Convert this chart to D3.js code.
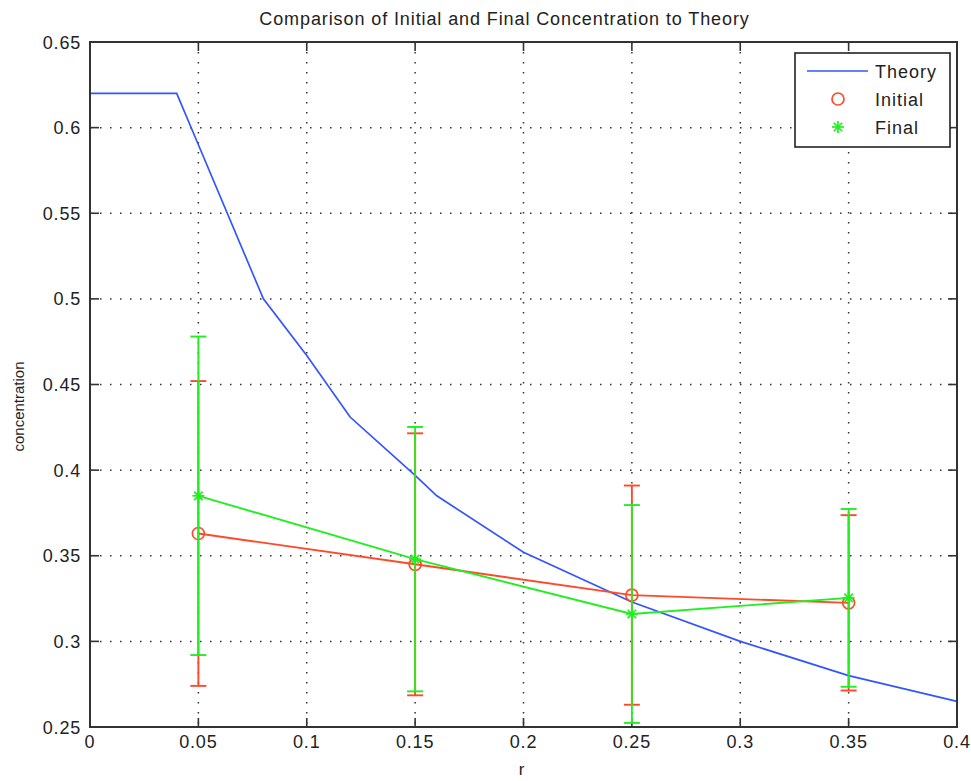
<!DOCTYPE html>
<html lang="en">
<head>
    <meta charset="UTF-8">
    <title>Comparison of Initial and Final Concentration to Theory</title>
    <script src="https://d3js.org/d3.v7.min.js"></script>
    <style>
        body {
            margin: 0;
            background: #fff;
        }
        svg {
            display: block;
            font-family: "Liberation Sans", Arial, sans-serif;
        }
        .grid line {
            stroke: #333;
            stroke-width: 1.5px;
            stroke-dasharray: 1.5 8.5;
        }
        .tick-label {
            font-size: 18px;
            fill: #222;
            letter-spacing: 0.8px;
        }
    </style>
</head>
<body>
    <svg id="chart" width="971" height="781"></svg>

    <script>
        // theory curve
        const theoryR = [0, 0.04, 0.05, 0.08, 0.1, 0.12, 0.15, 0.16, 0.2, 0.25, 0.3, 0.35, 0.4];
        const theoryC = [0.62, 0.62, 0.59, 0.5, 0.467, 0.431, 0.397, 0.385, 0.352, 0.323, 0.30, 0.28, 0.265];

        // measured points
        const rPoints = [0.05, 0.15, 0.25, 0.35];
        const initialC = [0.363, 0.345, 0.327, 0.3225];
        const initialErr = [0.089, 0.0765, 0.064, 0.0512];
        const finalC = [0.385, 0.348, 0.316, 0.3254];
        const finalErr = [0.093, 0.0772, 0.0636, 0.0519];

        const xTicks = [0, 0.05, 0.1, 0.15, 0.2, 0.25, 0.3, 0.35, 0.4];
        const yTicks = [0.25, 0.3, 0.35, 0.4, 0.45, 0.5, 0.55, 0.6, 0.65];
        const legendNames = ["Theory", "Initial", "Final"];

        const blue = "#3355ff", red = "#ff4a2a", green = "#22ee22", axisCol = "#333";

        const W = 971, H = 781;
        const m = { left: 90, top: 42, right: 14, bottom: 54 };
        const svg = d3.select("#chart");

        const x = d3.scaleLinear().domain([0, 0.4]).range([m.left, W - m.right]);
        const y = d3.scaleLinear().domain([0.25, 0.65]).range([H - m.bottom, m.top]);

        // grid
        const grid = svg.append("g").attr("class", "grid");
        grid.selectAll(".gx").data(xTicks.slice(1, -1)).enter().append("line")
            .attr("x1", d => x(d)).attr("x2", d => x(d))
            .attr("y1", y(0.65)).attr("y2", y(0.25));
        grid.selectAll(".gy").data(yTicks.slice(1, -1)).enter().append("line")
            .attr("y1", d => y(d)).attr("y2", d => y(d))
            .attr("x1", x(0)).attr("x2", x(0.4));

        // tick marks inward on all sides
        const tk = 9;
        const ticks = svg.append("g").attr("stroke", axisCol).attr("stroke-width", 1.6);
        xTicks.forEach(d => {
            ticks.append("line").attr("x1", x(d)).attr("x2", x(d)).attr("y1", y(0.25)).attr("y2", y(0.25) - tk);
            ticks.append("line").attr("x1", x(d)).attr("x2", x(d)).attr("y1", y(0.65)).attr("y2", y(0.65) + tk);
        });
        yTicks.forEach(d => {
            ticks.append("line").attr("y1", y(d)).attr("y2", y(d)).attr("x1", x(0)).attr("x2", x(0) + tk);
            ticks.append("line").attr("y1", y(d)).attr("y2", y(d)).attr("x1", x(0.4)).attr("x2", x(0.4) - tk);
        });

        // tick labels
        svg.selectAll(".xl").data(xTicks).enter().append("text")
            .attr("class", "tick-label")
            .attr("x", d => x(d)).attr("y", y(0.25) + 21)
            .attr("text-anchor", "middle")
            .text(d => d3.format("")(d));
        svg.selectAll(".yl").data(yTicks).enter().append("text")
            .attr("class", "tick-label")
            .attr("x", x(0) - 9).attr("y", d => y(d) + 6.5)
            .attr("text-anchor", "end")
            .text(d => d3.format("")(d));

        // theory line
        const line = d3.line().x(d => x(d[0])).y(d => y(d[1]));
        svg.append("path")
            .datum(theoryR.map((r, i) => [r, theoryC[i]]))
            .attr("d", line)
            .attr("fill", "none").attr("stroke", blue).attr("stroke-width", 1.7);

        function errorSeries(vals, errs, color, marker) {
            const g = svg.append("g");
            g.append("path")
                .datum(rPoints.map((r, i) => [r, vals[i]]))
                .attr("d", line)
                .attr("fill", "none").attr("stroke", color).attr("stroke-width", 1.9);
            const cap = 8;
            rPoints.forEach((r, i) => {
                const lo = vals[i] - errs[i], hi = vals[i] + errs[i];
                const e = g.append("g").attr("stroke", color).attr("stroke-width", 1.9);
                e.append("line").attr("x1", x(r)).attr("x2", x(r)).attr("y1", y(lo)).attr("y2", y(hi));
                e.append("line").attr("x1", x(r) - cap).attr("x2", x(r) + cap).attr("y1", y(lo)).attr("y2", y(lo));
                e.append("line").attr("x1", x(r) - cap).attr("x2", x(r) + cap).attr("y1", y(hi)).attr("y2", y(hi));
                marker(g, x(r), y(vals[i]));
            });
        }

        function circleMarker(g, cx, cy) {
            g.append("circle").attr("cx", cx).attr("cy", cy).attr("r", 6)
                .attr("fill", "none").attr("stroke", red).attr("stroke-width", 1.7);
        }
        function starMarker(g, cx, cy) {
            const s = 6;
            const st = g.append("g").attr("stroke", green).attr("stroke-width", 1.7);
            [0, 45, 90, 135].forEach(a => {
                const dx = s * Math.cos(a * Math.PI / 180), dy = s * Math.sin(a * Math.PI / 180);
                st.append("line").attr("x1", cx - dx).attr("x2", cx + dx).attr("y1", cy - dy).attr("y2", cy + dy);
            });
        }

        errorSeries(initialC, initialErr, red, circleMarker);
        errorSeries(finalC, finalErr, green, starMarker);

        // axes box
        svg.append("rect")
            .attr("x", x(0)).attr("y", y(0.65))
            .attr("width", x(0.4) - x(0)).attr("height", y(0.25) - y(0.65))
            .attr("fill", "none").attr("stroke", axisCol).attr("stroke-width", 2);

        // legend
        const lg = svg.append("g");
        lg.append("rect").attr("x", 795).attr("y", 53).attr("width", 155).attr("height", 94)
            .attr("fill", "#fff").attr("stroke", "#222").attr("stroke-width", 1.6);
        const rows = [71, 99, 127];
        lg.append("line").attr("x1", 807).attr("x2", 868).attr("y1", rows[0]).attr("y2", rows[0])
            .attr("stroke", blue).attr("stroke-width", 1.7);
        circleMarker(lg, 838, rows[1]);
        starMarker(lg, 838, rows[2]);
        lg.selectAll(".lt").data(legendNames).enter().append("text")
            .attr("x", 875).attr("y", (d, i) => rows[i] + 6.5)
            .attr("font-size", 18).attr("letter-spacing", 1).attr("fill", "#222")
            .text(d => d);

        // title and axis labels
        svg.append("text")
            .attr("x", (x(0) + x(0.4)) / 2 - 19).attr("y", 25)
            .attr("text-anchor", "middle").attr("font-size", 18).attr("letter-spacing", 0.9)
            .attr("fill", "#222")
            .text("Comparison of Initial and Final Concentration to Theory");
        svg.append("text")
            .attr("x", (x(0) + x(0.4)) / 2 - 2).attr("y", 775)
            .attr("text-anchor", "middle").attr("font-size", 17).attr("fill", "#222")
            .text("r");
        svg.append("text")
            .attr("transform", `translate(24,${(y(0.25) + y(0.65)) / 2 + 22}) rotate(-90)`)
            .attr("text-anchor", "middle").attr("font-size", 15).attr("fill", "#222")
            .text("concentration");
    </script>
</body>
</html>
